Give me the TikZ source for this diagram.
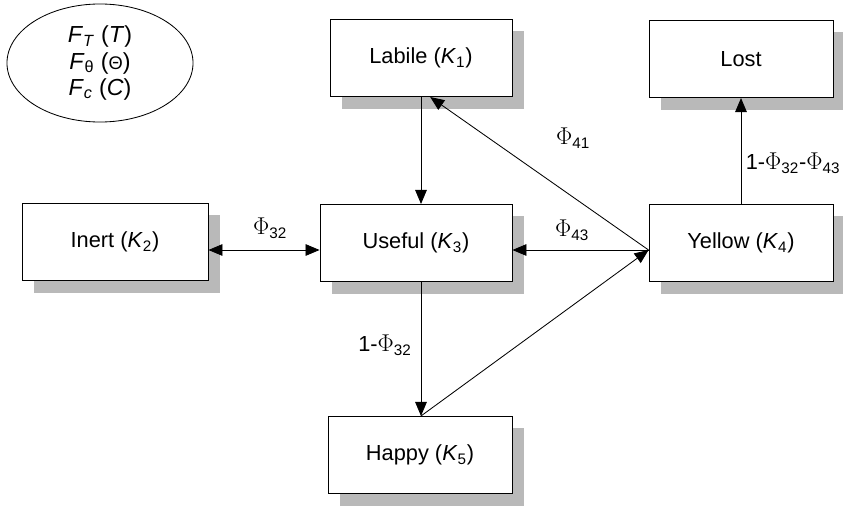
\documentclass[tikz,border=0pt]{standalone}
\usepackage{fontspec}
\setmainfont{Liberation Sans}
\usepackage{xcolor}
\definecolor{ColShade}{RGB}{185,185,185}
\usepackage{tikz}
\usetikzlibrary{shapes.geometric}
\usetikzlibrary{shadows}
\usetikzlibrary{arrows.meta}
\tikzstyle{Box}=[rectangle,draw=black,fill=white,line width=0.6pt,
minimum width=4.6cm,minimum height=1.93cm,inner sep=0pt,
font=\fontsize{15.5}{18}\selectfont,
drop shadow={shadow xshift=0.3cm,shadow yshift=-0.3cm,fill=ColShade,opacity=1}]
\tikzstyle{Edge}=[draw=black,line width=0.6pt,-{Triangle[length=0.35cm,width=0.29cm]}]
\tikzstyle{EdgeBoth}=[Edge,{Triangle[length=0.35cm,width=0.29cm]}-{Triangle[length=0.35cm,width=0.29cm]}]
\tikzstyle{Label}=[font=\fontsize{15.5}{18}\selectfont]
\newcommand{\Ph}[1]{{\fontsize{18}{18}\selectfont$\Phi$}\textsubscript{#1}}
\newcommand{\Kc}[1]{\textit{K}\textsubscript{#1}}

\begin{document}
\begin{tikzpicture}[x=0.025cm,y=-0.025cm]
        \useasboundingbox(0,0)rectangle(843,506);
        \node[draw,ellipse,line width=0.6pt,minimum width=4.65cm,minimum height=2.95cm,
            align=center,font=\fontsize{16.5}{18.5}\selectfont](F)at(100,63)
            {\textit{F}\textsubscript{\textit{T}} (\textit{T})\\
             \textit{F}\textsubscript{θ} ({\fontsize{13}{14}\selectfont Θ})\\
             \textit{F}\textsubscript{\textit{c}} (\textit{C})};
        \node[Box,minimum width=4.55cm](K1)at(421,58){Labile (\Kc{1})};
        \node[Box](Lost)at(741,59){Lost};
        \node[Box,minimum width=4.65cm](K2)at(115,242){Inert (\Kc{2})};
        \node[Box,minimum width=4.8cm](K3)at(416,243){Useful (\Kc{3})};
        \node[Box](K4)at(741,243){Yellow (\Kc{4})};
        \node[Box](K5)at(420,455){Happy (\Kc{5})};
        \coordinate(Y)at([yshift=-0.175cm]K4.west);
        \draw[Edge](K1.south)--(K1.south|-K3.north);
        \draw[Edge](Y)--([xshift=0.23cm]K1.south);
        \draw[Edge](Y)--(Y-|K3.east);
        \draw[EdgeBoth](K2.east|-Y)--(K3.west|-Y);
        \draw[Edge](K1.south|-K3.south)--(K1.south|-K5.north);
        \draw[Edge](K1.south|-K5.north)--(Y);
        \draw[Edge](K4.north)--(Lost.south);
        \node[Label](P41)at(573,138){\Ph{41}};
        \node[Label](P43)at(572,230){\Ph{43}};
        \node[Label](P32)at(270,228){\Ph{32}};
        \node[Label](Q32)at(385,345){1-\Ph{32}};
        \node[Label](Q43)at(793,163){1-\Ph{32}-\Ph{43}};
    \end{tikzpicture}
\end{document}
